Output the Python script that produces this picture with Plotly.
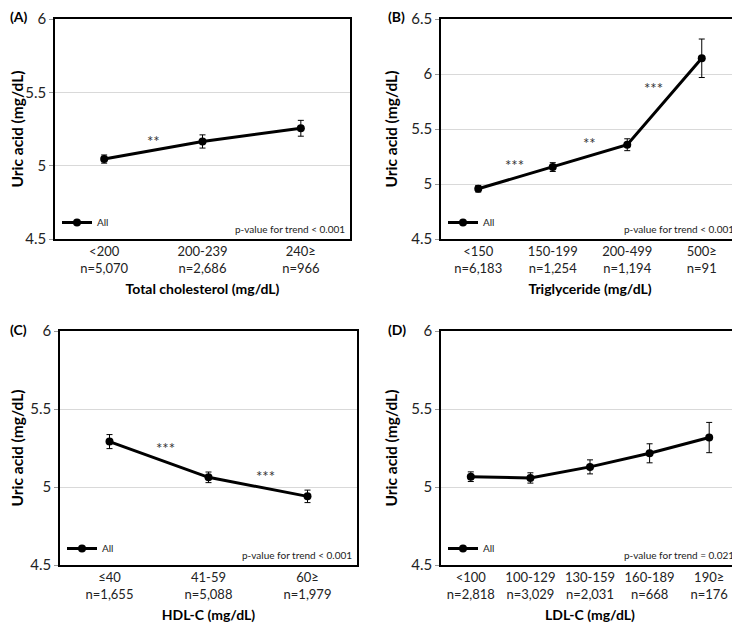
import plotly.graph_objects as go

# ---------------- data ----------------
a_cats = ["<200<br>n=5,070", "200-239<br>n=2,686", "240≥<br>n=966"]
a_vals = [5.045, 5.165, 5.255]
a_err = [0.028, 0.045, 0.054]

b_cats = ["<150<br>n=6,183", "150-199<br>n=1,254", "200-499<br>n=1,194", "500≥<br>n=91"]
b_vals = [4.957, 5.154, 5.357, 6.143]
b_err = [0.03, 0.04, 0.054, 0.175]

c_cats = ["≤40<br>n=1,655", "41-59<br>n=5,088", "60≥<br>n=1,979"]
c_vals = [5.291, 5.062, 4.94]
c_err = [0.045, 0.034, 0.04]

d_cats = ["<100<br>n=2,818", "100-129<br>n=3,029", "130-159<br>n=2,031", "160-189<br>n=668", "190≥<br>n=176"]
d_vals = [5.066, 5.058, 5.129, 5.216, 5.317]
d_err = [0.031, 0.033, 0.045, 0.061, 0.097]

x_titles = ["Total cholesterol (mg/dL)", "Triglyceride (mg/dL)", "HDL-C (mg/dL)", "LDL-C (mg/dL)"]
panel_labels = ["(A)", "(B)", "(C)", "(D)"]
p_texts = ["p-value for trend < 0.001", "p-value for trend < 0.001",
           "p-value for trend < 0.001", "p-value for trend = 0.021"]
y_ranges = [[4.5, 6], [4.5, 6.5], [4.5, 6], [4.5, 6]]
y_ticks = [[4.5, 5, 5.5, 6], [4.5, 5, 5.5, 6, 6.5], [4.5, 5, 5.5, 6], [4.5, 5, 5.5, 6]]

# significance stars: (panel, x position in category units, y value, text)
stars = [
    (0, 0.5, 5.17, "**"),
    (1, 0.48, 5.17, "***"),
    (1, 1.49, 5.37, "**"),
    (1, 2.35, 5.87, "***"),
    (2, 0.57, 5.25, "***"),
    (2, 1.58, 5.07, "***"),
]

# ---------------- layout geometry ----------------
OFF = 8                      # page body margin
W, H = 740 - OFF, 626 - OFF  # figure size
boxes = [  # left, right, top, bottom in page pixels
    (55, 350, 19, 239),
    (441, 739, 19, 239),
    (60, 357, 331, 565),
    (441, 739, 331, 565),
]

def px(x):
    return (x - OFF) / W

def py(y):
    return 1 - (y - OFF) / H

FONT = "Lato, Open Sans, sans-serif"
data = [(a_cats, a_vals, a_err), (b_cats, b_vals, b_err), (c_cats, c_vals, c_err), (d_cats, d_vals, d_err)]

fig = go.Figure()
layout = dict(
    width=W, height=H, margin=dict(l=0, r=0, t=0, b=0, autoexpand=False),
    paper_bgcolor="white", plot_bgcolor="white",
    font=dict(family=FONT, color="#222"),
    showlegend=True,
)
annotations = []

for i, ((cats, vals, errs), (l, r, t, b)) in enumerate(zip(data, boxes)):
    n = i + 1
    xa = "x" if n == 1 else f"x{n}"
    ya = "y" if n == 1 else f"y{n}"
    leg = "legend" if n == 1 else f"legend{n}"
    xs = list(range(len(cats)))
    fig.add_trace(go.Scatter(
        x=xs, y=vals, mode="lines+markers", name="All",
        xaxis=xa, yaxis=ya, legend=leg,
        line=dict(color="black", width=3),
        marker=dict(color="black", size=8),
        error_y=dict(type="data", array=errs, color="black", thickness=1, width=3),
    ))
    xkey = "xaxis" if n == 1 else f"xaxis{n}"
    ykey = "yaxis" if n == 1 else f"yaxis{n}"
    layout[xkey] = dict(
        domain=[px(l), min(px(r), 1)], anchor=ya, range=[-0.5, len(cats) - 0.5],
        tickmode="array", tickvals=xs, ticktext=cats, automargin=False,
        ticklabeloverflow="allow",
        showgrid=False, zeroline=False, showline=True, linecolor="black", linewidth=1.5,
        mirror=True, ticks="", tickfont=dict(size=13, color="#222"),
        title=dict(text=f"<b>{x_titles[i]}</b>", font=dict(size=14, color="black"), standoff=9),
    )
    layout[ykey] = dict(
        domain=[py(b), min(py(t), 1)], anchor=xa, range=y_ranges[i], automargin=False,
        ticklabeloverflow="allow",
        tickmode="array", tickvals=y_ticks[i], ticktext=[f"{v:g}" for v in y_ticks[i]],
        showgrid=True, gridcolor="#d9d9d9", gridwidth=1, zeroline=False,
        showline=True, linecolor="black", linewidth=1.5, mirror=True,
        ticks="outside", ticklen=4, tickcolor="#999", tickfont=dict(size=15, color="#222"),
        title=dict(text="<b>Uric acid (mg/dL)</b>", font=dict(size=15.5, color="black"), standoff=10),
    )
    layout[leg] = dict(
        x=px(l + 2), y=py(b - 2), xanchor="left", yanchor="bottom",
        bgcolor="rgba(0,0,0,0)", font=dict(size=10, color="#222"),
        itemwidth=30, tracegroupgap=0,
    )
    annotations.append(dict(
        xref="paper", yref="paper", x=min(px(r - 3), 1), y=py(b - 2),
        xanchor="right", yanchor="bottom", text=p_texts[i], showarrow=False,
        font=dict(size=10, color="#222"),
    ))
    lx = 8 if i % 2 == 0 else 386
    annotations.append(dict(
        xref="paper", yref="paper", x=px(lx), y=py(max(t - 2, 17)),
        xanchor="left", yanchor="middle", text=f"<b>{panel_labels[i]}</b>", showarrow=False,
        font=dict(size=14, color="black"),
    ))

for (p, sx, sy, txt) in stars:
    n = p + 1
    annotations.append(dict(
        xref="x" if n == 1 else f"x{n}", yref="y" if n == 1 else f"y{n}",
        x=sx, y=sy, text=txt, showarrow=False, font=dict(size=15, color="#333"),
    ))

layout["annotations"] = annotations
fig.update_layout(**layout)
fig.write_html("out.html")
